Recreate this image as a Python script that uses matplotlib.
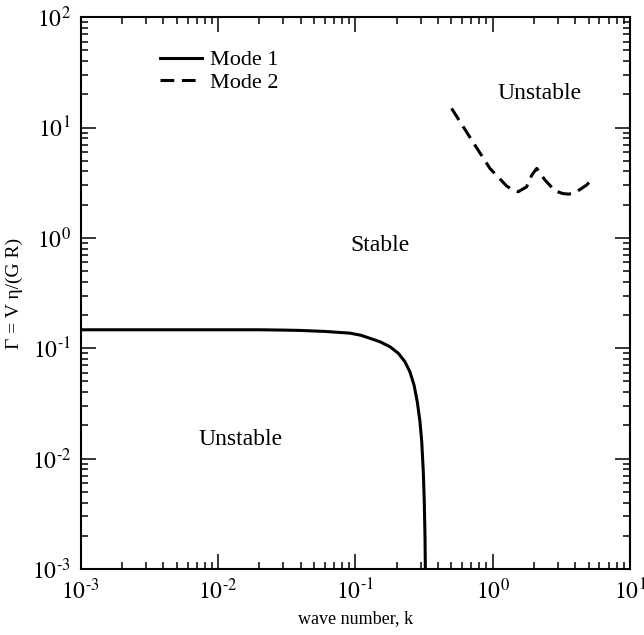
import numpy as np
import matplotlib
matplotlib.use("Agg")
import matplotlib.pyplot as plt
from matplotlib.ticker import LogLocator, NullFormatter, FuncFormatter

plt.rcParams['font.family'] = ['Liberation Serif', 'DejaVu Serif']
plt.rcParams['mathtext.fontset'] = 'stix'

# Mode 1 (solid)
k1 = [0.001, 0.003, 0.01, 0.02, 0.03, 0.0395, 0.06, 0.0914, 0.110, 0.128, 0.151, 0.179,
      0.206, 0.230, 0.250, 0.268, 0.283, 0.296, 0.305, 0.313, 0.318, 0.322, 0.324]
g1 = [0.147, 0.147, 0.147, 0.147, 0.146, 0.145, 0.142, 0.137, 0.131, 0.123, 0.1146, 0.1032,
      0.0899, 0.0755, 0.0612, 0.0464, 0.0327, 0.0216, 0.0142, 0.0076, 0.0042, 0.002, 0.001]

# Mode 2 (dashed)
k2 = [0.503, 0.705, 0.957, 1.267, 1.40, 1.54, 1.77, 1.93, 2.10, 2.41, 2.85, 3.25, 3.60,
      4.10, 4.84, 5.48]
g2 = [14.9, 7.69, 4.26, 2.95, 2.72, 2.62, 2.90, 3.70, 4.26, 3.34, 2.67, 2.52, 2.49,
      2.62, 3.01, 3.53]

region_labels = ["Stable", "Unstable", "Unstable"]
region_k = [0.151, 0.0145, 2.21]
region_g = [0.86, 0.0148, 20.4]

def pow10(v, pos):
    e = int(round(np.log10(v)))
    s = r"\text{-}%d" % -e if e < 0 else "%d" % e
    return r"$10^{%s}$" % s

fig = plt.figure(figsize=(6.44, 6.35), dpi=100)
ax = fig.add_axes([0.1253, 0.104, 0.8527, 0.869])

ax.plot(k1, g1, 'k-', lw=2.2, label="Mode 1")
ax.plot(k2, g2, 'k--', lw=2.2, dashes=(4.5, 2.5), label="Mode 2")

for txt, kx, gy in zip(region_labels, region_k, region_g):
    ax.text(kx, gy, txt, ha='center', va='center', fontsize=17)

ax.set_xscale('log'); ax.set_yscale('log')
ax.set_xlim(1e-3, 1e1); ax.set_ylim(1e-3, 1e2)
ax.set_xlabel("wave number, k", fontsize=13, labelpad=4)
ax.set_ylabel("Γ = V η/(G R)", fontsize=14, labelpad=6)

for axis in (ax.xaxis, ax.yaxis):
    axis.set_major_locator(LogLocator(base=10, numticks=10))
    axis.set_major_formatter(FuncFormatter(pow10))
    axis.set_minor_locator(LogLocator(base=10, subs=np.arange(2, 10), numticks=10))
    axis.set_minor_formatter(NullFormatter())
ax.tick_params(which='both', direction='in', top=True, right=True, width=1.1)
ax.tick_params(which='major', length=11, labelsize=17, pad=7)
ax.tick_params(which='minor', length=5)
for s in ax.spines.values():
    s.set_linewidth(1.5)

ax.legend(loc='upper left', bbox_to_anchor=(0.128, 0.957), frameon=False, fontsize=16,
          handlelength=1.9, handletextpad=0.36, labelspacing=0.1, borderaxespad=0)

plt.savefig("out.png", dpi=100)
plt.close()
